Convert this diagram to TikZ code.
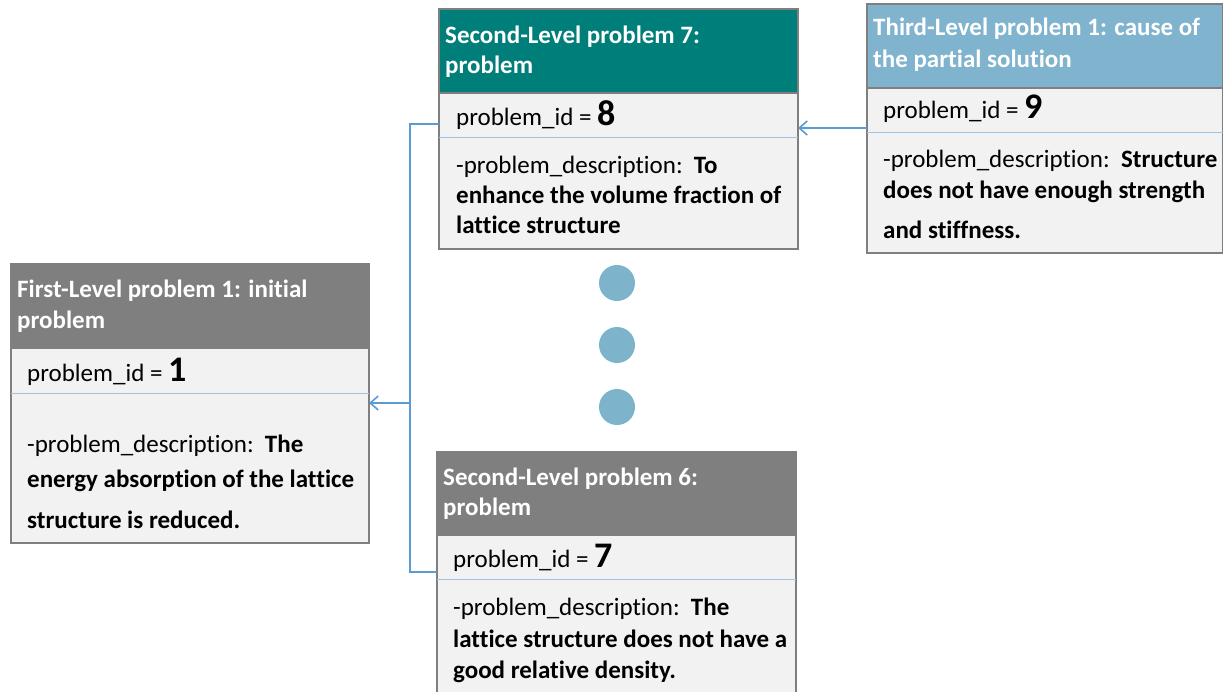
\documentclass[tikz,border=0pt]{standalone}
\usepackage{fontspec}
\setmainfont{Carlito}[Ligatures=NoCommon]
\usetikzlibrary{arrows.meta,calc}
\definecolor{hgray}{HTML}{7F7F7F}
\definecolor{hteal}{HTML}{007F7A}
\definecolor{hblue}{HTML}{80B3CD}
\definecolor{bodyfill}{HTML}{F2F2F2}
\definecolor{edgec}{HTML}{7F7F7F}
\definecolor{connc}{HTML}{5B9BD5}
\definecolor{divc}{HTML}{9DC3E6}
\definecolor{dotc}{HTML}{7EB3CC}
\newcommand\bignum[1]{{\fontsize{36}{40}\selectfont\bfseries #1}}
\newcommand\twosp{\hspace{0.45em}}
\begin{document}
\begin{tikzpicture}[x=1pt,y=-1pt,
 box/.style={draw=edgec, line width=1.2pt, anchor=north west, inner sep=0pt, outer sep=0pt},
 hd/.style={box},
 bd/.style={box, fill=bodyfill},
 ht/.style={anchor=base west, inner sep=0pt, text=white, font=\fontsize{25}{30}\selectfont\bfseries},
 tx/.style={anchor=base west, inner sep=0pt, font=\fontsize{25}{30}\selectfont},
 divider/.style={draw=divc, line width=1pt},
 link/.style={draw=connc, line width=1.6pt},
 arr/.style={link, -{Straight Barb[length=8pt,width=14pt]}},
 dotn/.style={circle, fill=dotc, minimum size=36pt, inner sep=0pt}]
\useasboundingbox (0,0) rectangle (1223,691);
\clip (0,0) rectangle (1223,691);
% Box A
\node[hd, fill=hgray, minimum width=358pt, minimum height=84pt] (hA) at (11,264) {};
\node[bd, minimum width=358pt, minimum height=195pt] (bA) at (11,348) {};
\draw[divider] ([yshift=-45pt]bA.north west) -- ([yshift=-45pt]bA.north east);
\node[ht] (tA1) at (17,297) {First-Level problem 1: initial};
\node[ht] (tA2) at (17,328) {problem};
\node[tx] (iA) at (27,381) {problem\_id = \bignum{1}};
\node[tx] (dA1) at (27,452) {-problem\_description:\twosp\textbf{The}};
\node[tx] (dA2) at (27,487) {\textbf{energy absorption of the lattice}};
\node[tx] (dA3) at (27,528) {\textbf{structure is reduced.}};
% Box B
\node[hd, fill=hteal, minimum width=359pt, minimum height=84pt] (hB) at (439,9) {};
\node[bd, minimum width=359pt, minimum height=156pt] (bB) at (439,93) {};
\draw[divider] ([yshift=-44pt]bB.north west) -- ([yshift=-44pt]bB.north east);
\node[ht] (tB1) at (445,43) {Second-Level problem 7:};
\node[ht] (tB2) at (445,73) {problem};
\node[tx] (iB) at (456,125) {problem\_id = \bignum{8}};
\node[tx] (dB1) at (456,173) {-problem\_description:\twosp\textbf{To}};
\node[tx] (dB2) at (456,203) {\textbf{enhance the volume fraction of}};
\node[tx] (dB3) at (456,233) {\textbf{lattice structure}};
% Box C
\node[hd, fill=hblue, minimum width=356pt, minimum height=84pt] (hC) at (867,4) {};
\node[bd, minimum width=356pt, minimum height=165pt] (bC) at (867,88) {};
\draw[divider] ([yshift=-44pt]bC.north west) -- ([yshift=-44pt]bC.north east);
\node[ht] (tC1) at (873,35) {Third-Level problem 1: cause of};
\node[ht] (tC2) at (873,67) {the partial solution};
\node[tx] (iC) at (883,118) {problem\_id = \bignum{9}};
\node[tx] (dC1) at (883,167) {-problem\_description:\twosp\textbf{Structure}};
\node[tx] (dC2) at (883,198) {\textbf{does not have enough strength}};
\node[tx] (dC3) at (883,238) {\textbf{and stiffness.}};
% Box D
\node[hd, fill=hgray, minimum width=359pt, minimum height=83pt] (hD) at (437,452) {};
\node[bd, minimum width=359pt, minimum height=160pt] (bD) at (437,535) {};
\draw[divider] ([yshift=-44pt]bD.north west) -- ([yshift=-44pt]bD.north east);
\node[ht] (tD1) at (443,485) {Second-Level problem 6:};
\node[ht] (tD2) at (443,515) {problem};
\node[tx] (iD) at (453,567) {problem\_id = \bignum{7}};
\node[tx] (dD1) at (453,615) {-problem\_description:\twosp\textbf{The}};
\node[tx] (dD2) at (453,647) {\textbf{lattice structure does not have a}};
\node[tx] (dD3) at (453,678) {\textbf{good relative density.}};
% dots
\node[dotn] (d1) at (617,283) {};
\node[dotn] (d2) at (617,345) {};
\node[dotn] (d3) at (617,407) {};
% connectors
\coordinate (jn) at (410,403);
\draw[link] ([yshift=-31pt]bB.north west) -| (jn) |- ([yshift=-37pt]bD.north west);
\draw[arr] (jn) -- (jn -| bA.east);
\coordinate (cy) at ([yshift=-40pt]bC.north west);
\draw[arr] (cy) -- (cy -| bB.east);
\end{tikzpicture}
\end{document}
